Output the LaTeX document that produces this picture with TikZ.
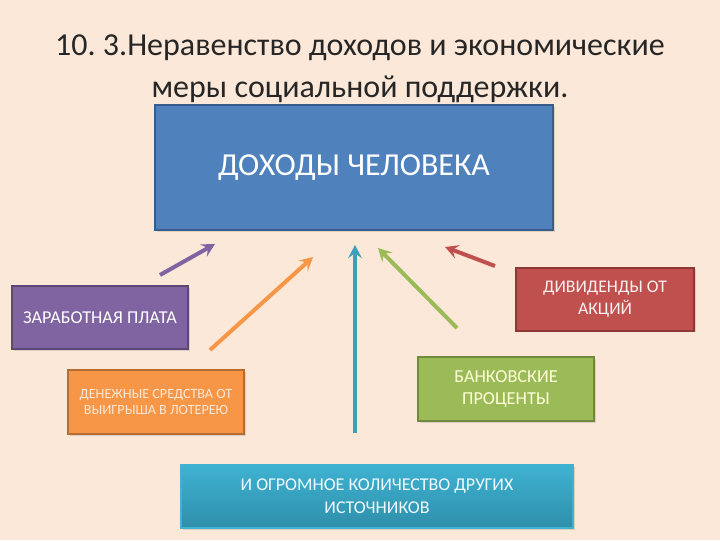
\documentclass[tikz,border=0pt]{standalone}
\usepackage{fontspec}
\setmainfont{Carlito}
\usetikzlibrary{arrows.meta,shadows}
\frenchspacing
\definecolor{bg}{HTML}{FCE8D8}
\definecolor{cblue}{HTML}{4F81BD}
\definecolor{cblueD}{HTML}{385D8A}
\definecolor{cpurple}{HTML}{8064A2}
\definecolor{cpurpleD}{HTML}{5C4776}
\definecolor{corange}{HTML}{F79646}
\definecolor{corangeD}{HTML}{B66D31}
\definecolor{cred}{HTML}{C0504D}
\definecolor{credD}{HTML}{8C3836}
\definecolor{cgreen}{HTML}{9BBB59}
\definecolor{cgreenD}{HTML}{71893F}
\definecolor{ctealT}{HTML}{3FB2D2}
\definecolor{ctealB}{HTML}{2E8FAA}
\definecolor{titlec}{HTML}{262626}
\tikzset{
  x=0.75pt, y=-0.75pt,
  box/.style={rectangle, inner sep=0pt, align=center, line width=1.5pt,
    drop shadow={opacity=0.25, shadow xshift=1.2pt, shadow yshift=-1.2pt}},
  arr/.style={line width=3pt, -{Stealth[length=10pt,width=10.5pt,inset=4pt]}},
  lbl/.style={font=\fontsize{13.6}{17}\selectfont}
}
\begin{document}
\begin{tikzpicture}
\fill[bg] (0,0) rectangle (720,540);
\useasboundingbox (0,0) rectangle (720,540);

\node[text=titlec, align=center, font=\fontsize{24}{31.5}\selectfont] (title) at (360,69)
  {10. 3.Неравенство доходов и экономические\\меры социальной поддержки.};

\node[box, fill=cblue, draw=cblueD, minimum width=298.5pt, minimum height=93.75pt,
  text=white, font=\fontsize{24}{28}\selectfont] (main) at (354,167.5) {\raisebox{-4.5pt}{ДОХОДЫ ЧЕЛОВЕКА}};

\node[box, fill=cpurple, draw=cpurpleD, minimum width=132pt, minimum height=47.25pt,
  text=white, lbl] (wage) at (100,317.5) {ЗАРАБОТНАЯ ПЛАТА};

\node[box, fill=corange, draw=corangeD, minimum width=132pt, minimum height=48pt,
  text=bg, font=\fontsize{10.6}{12}\selectfont] (lottery) at (156,402)
  {ДЕНЕЖНЫЕ СРЕДСТВА ОТ\\ВЫИГРЫША В ЛОТЕРЕЮ};

\node[box, fill=cred, draw=credD, minimum width=133.5pt, minimum height=47.25pt,
  text=white!92!cred, font=\fontsize{13.3}{17}\selectfont] (divid) at (605,299) {ДИВИДЕНДЫ ОТ\\АКЦИЙ};

\node[box, fill=cgreen, draw=cgreenD, minimum width=132pt, minimum height=48pt,
  text={rgb,255:red,255;green,255;blue,215}, font=\fontsize{13.7}{16}\selectfont] (bank) at (506,389)
  {БАНКОВСКИЕ\\ПРОЦЕНТЫ};

\node[box, top color=ctealT, bottom color=ctealB, draw=ctealT, line width=0.8pt,
  minimum width=294pt, minimum height=47.25pt,
  text={rgb,255:red,240;green,250;blue,255}, font=\fontsize{13.5}{17}\selectfont] (other) at (377,496.5)
  {И ОГРОМНОЕ КОЛИЧЕСТВО ДРУГИХ\\ИСТОЧНИКОВ};

% arrow ends
\coordinate (p1) at (160,275); \coordinate (q1) at (215,244);
\coordinate (p2) at (210,350); \coordinate (q2) at (313,257);
\coordinate (p3) at (355,433); \coordinate (q3) at (355,245);
\coordinate (p4) at (457,328); \coordinate (q4) at (378,248);
\coordinate (p5) at (495,266); \coordinate (q5) at (445,247);

\draw[arr, draw=cpurple] (p1) -- (q1);
\draw[arr, draw=corange] (p2) -- (q2);
\draw[arr, draw=ctealT!90!black, line width=2.5pt] (p3) -- (q3);
\draw[arr, draw=cgreen] (p4) -- (q4);
\draw[arr, draw=cred] (p5) -- (q5);
\end{tikzpicture}
\end{document}
